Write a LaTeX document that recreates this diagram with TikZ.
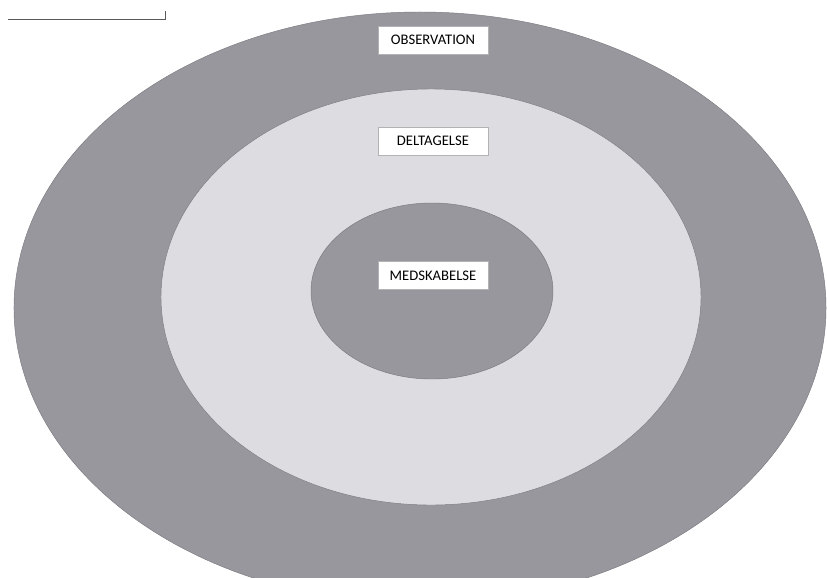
\documentclass[tikz,border=0pt]{standalone}
\usepackage{fontspec}
\setmainfont{Carlito}
\usetikzlibrary{shapes.geometric}
\definecolor{ringdark}{RGB}{153,151,158}
\definecolor{ringlight}{RGB}{221,220,225}
\definecolor{ringedge}{RGB}{125,123,129}
\begin{document}
\begin{tikzpicture}[
        x=0.03cm, y=-0.03cm,
        ring/.style={ellipse, draw=ringedge, line width=0.4pt, inner sep=0pt},
        lbl/.style={rectangle, draw=gray!60, line width=0.4pt, fill=white, minimum width=3.3cm, minimum height=0.84cm, inner sep=0pt},
        font=\fontsize{12.5}{14}\selectfont
    ]
    \useasboundingbox (0,0) rectangle (827,577);
    \clip (0,0) rectangle (827,577);

    % Ringe
    \node[ring, fill=ringdark, minimum width=24.36cm, minimum height=17.76cm] (obs) at (420,308) {};
    \node[ring, fill=ringlight, minimum width=16.2cm, minimum height=12.48cm] (del) at (431,297) {};
    \node[ring, fill=ringdark, minimum width=7.26cm, minimum height=5.28cm] (med) at (432,291) {};

    % Etiketter
    \node[lbl] (obsl) at (433,40) {OBSERVATION};
    \node[lbl] (dell) at (433,141) {DELTAGELSE};
    \node[lbl] (medl) at (433,275.5) {MEDSKABELSE};

    % Linje oppe til venstre
    \draw[gray!70!black, line width=0.5pt] (8,19) -- (165,19) -- (165,11);

\end{tikzpicture}
\end{document}
